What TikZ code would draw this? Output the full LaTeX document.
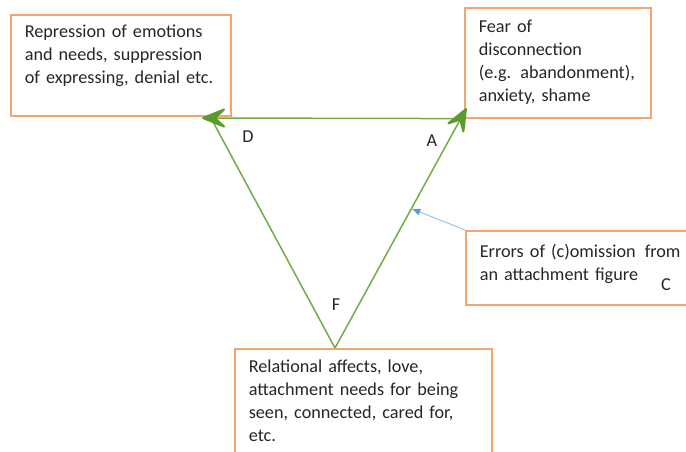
\documentclass[tikz,border=0pt]{standalone}
\usepackage{fontspec}
\setmainfont{Carlito}
\usetikzlibrary{arrows.meta, positioning, calc}
\definecolor{boxorange}{HTML}{F4A46E}
\definecolor{trigreen}{HTML}{70AD47}
\definecolor{tipgreen}{HTML}{5A9A2E}
\definecolor{lineblue}{HTML}{9DC3E6}
\definecolor{tipblue}{HTML}{5B9BD5}
\definecolor{textdark}{HTML}{262626}
\newcommand{\bodyfont}{\fontsize{18.2}{23}\selectfont}
% filled chevron head at #1, pointing away from #2
\newcommand{\chevronhead}[2]{%
  \filldraw[tipgreen, line width=2pt, line join=round]
    (#1) -- ($(#1)!21pt!(#2)!8.5pt!90:(#1)$) -- ($(#1)!12pt!(#2)$)
    -- ($(#1)!21pt!(#2)!8.5pt!-90:(#1)$) -- cycle;}

\begin{document}
\begin{tikzpicture}[x=1pt, y=1pt,
    box/.style={draw=boxorange, line width=1.6pt, anchor=north west, inner xsep=14pt,
                inner ysep=0pt, align=left, text=textdark, font=\bodyfont},
    corner/.style={text=textdark, font=\bodyfont},
    side/.style={draw=trigreen, line width=1.5pt},
    omit/.style={draw=lineblue, line width=1pt}]
  \useasboundingbox (0,0) rectangle (686,-452);
  \clip (0,0) rectangle (686,-452);

  % the four boxes
  \node[box, text width=192pt, text height=23pt, text depth=78pt] (repress) at (10,-14)
    {Repression of emotions\\and needs, suppression\\of expressing, denial etc.};
  \node[box, text width=158pt, text height=25pt, text depth=85pt] (fear) at (464,-7)
    {Fear of\\disconnection\\\mbox{(e.g. abandonment),}\\anxiety, shame};
  \node[box, text width=212pt, text height=27pt, text depth=47pt] (errors) at (465,-230)
    {\mbox{Errors of (c)omission\hspace{3pt} from}\\an attachment figure};
  \node[box, text width=229pt, text height=24pt, text depth=130pt] (relation) at (234,-348)
    {Relational affects, love,\\attachment needs for being\\seen, connected, cared for,\\etc.};

  % triangle corners
  \coordinate (tipD) at (203,-118);
  \coordinate (endD) at (212,-120);
  \coordinate (tipA) at (466,-109);
  \coordinate (tipF) at (335,-348);
  \coordinate (hit) at ($(tipF)!0.583!(tipA)$);

  \draw[side] (tipF) -- (endD);
  \draw[side] (fear.south west) -- (tipD);
  \draw[side] (tipF) -- (tipA);
  \chevronhead{tipD}{fear.south west}
  \chevronhead{tipA}{tipF}
  \draw[omit, -{Latex[length=9pt, width=7pt, color=tipblue]}] (errors.north west) -- (hit);

  \node[corner] (labD) at (248,-137) {D};
  \node[corner] (labA) at (432,-141) {A};
  \node[corner] (labF) at (336,-305) {F};
  \node[corner] (labC) at (666,-285) {C};
\end{tikzpicture}
\end{document}
